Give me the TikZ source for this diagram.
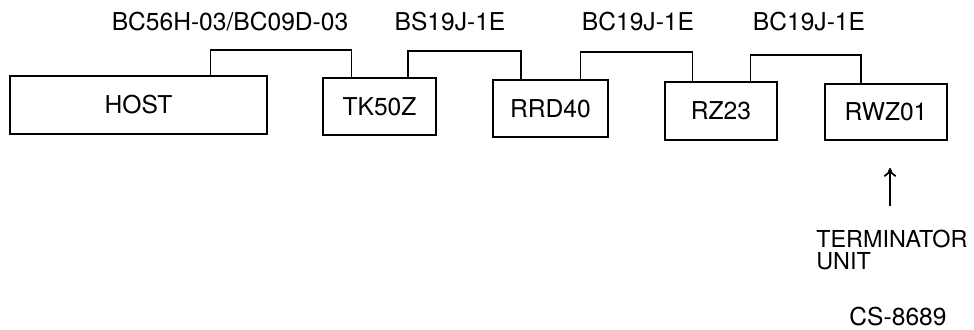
\documentclass[tikz,border=0pt]{standalone}
\usepackage{fontspec}
\setmainfont{TeX Gyre Heros}
\usetikzlibrary{calc,arrows.meta}

\begin{document}
\begin{tikzpicture}[x=0.02cm,y=-0.02cm]

\tikzstyle{unit}=[draw, line width=1pt, inner sep=0pt, font=\fontsize{14}{15}\selectfont]
\tikzstyle{cable}=[draw, line width=1pt]
\tikzstyle{lbl}=[inner sep=0pt, font=\fontsize{14}{15}\selectfont]

\useasboundingbox (0,0) rectangle (974,330);

% boxes on the bus
\node[unit, minimum width=257*0.02cm, minimum height=58*0.02cm] (host) at (138.5,105) {HOST};
\node[unit, minimum width=113*0.02cm, minimum height=57*0.02cm] (tk) at (379.5,106.5) {TK50Z};
\node[unit, minimum width=115*0.02cm, minimum height=57*0.02cm] (rrd) at (550.5,108.5) {RRD40};
\node[unit, minimum width=112*0.02cm, minimum height=58*0.02cm] (rz) at (721,111) {RZ23};
\node[unit, minimum width=122*0.02cm, minimum height=56*0.02cm] (rwz) at (886,112) {RWZ01};

% cable names
\node[lbl] (c1) at (230,22) {BC56H-03/BC09D-03};
\node[lbl] (c2) at (450,22) {BS19J-1E};
\node[lbl] (c3) at (638,22) {BC19J-1E};
\node[lbl] (c4) at (809,22) {BC19J-1E};

% attach points
\coordinate (hostR) at ($(host.north west)!0.778!(host.north east)$);
\coordinate (tkL) at ($(tk.north west)!0.257!(tk.north east)$);
\coordinate (tkR) at ($(tk.north west)!0.75!(tk.north east)$);
\coordinate (rrdL) at ($(rrd.north west)!0.25!(rrd.north east)$);
\coordinate (rrdR) at ($(rrd.north west)!0.757!(rrd.north east)$);
\coordinate (rzL) at ($(rz.north west)!0.25!(rz.north east)$);
\coordinate (rzR) at ($(rz.north west)!0.76!(rz.north east)$);
\coordinate (rwzL) at ($(rwz.north west)!0.30!(rwz.north east)$);

% cables
\draw[cable] (hostR) -- (hostR |- 0,50) -| (tkL);
\draw[cable] (tkR) -- (tkR |- 0,51) -| (rrdL);
\draw[cable] (rrdR) -- (rrdR |- 0,52) -| (rzL);
\draw[cable] (rzR) -- (rzR |- 0,55) -| (rwzL);

% terminator
\node[lbl, anchor=north west, align=left, font=\fontsize{13.3}{12.5}\selectfont] (term) at (816,230) {TERMINATOR\\UNIT};
\coordinate (tail) at (890,206);
\coordinate (tip) at (890,168);
\draw[line width=1pt, -{To[length=5pt,width=7pt]}] (tail) -- (tip);

\node[lbl] (cs) at (898,317) {CS-8689};

\end{tikzpicture}
\end{document}
